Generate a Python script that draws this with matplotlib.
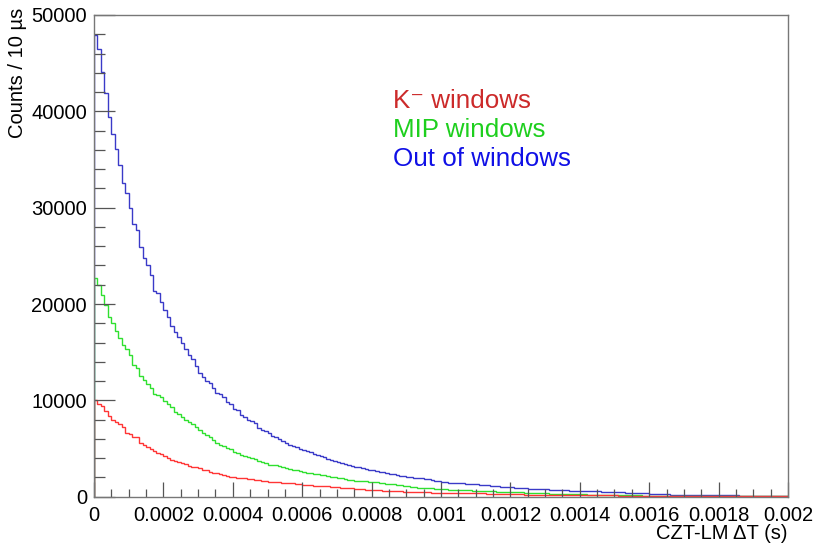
import matplotlib
matplotlib.use("Agg")
import matplotlib.pyplot as plt
import numpy as np
from matplotlib.ticker import MultipleLocator

# 200 bins of 10 us between 0 and 2 ms
bin_lo = 0.0
bin_hi = 0.002
n_bins = 200

# counts per bin
out_of_windows = [
    47940, 46490, 44070, 41950, 39460, 37660, 36070, 34440, 32540, 31560,
    29950, 28320, 27690, 25960, 24760, 24060, 23020, 21390, 21120, 20230,
    19370, 18680, 17710, 17120, 16600, 15910, 15290, 14700, 14240, 13580,
    12790, 12440, 12020, 11810, 11240, 10750, 10700, 10360, 9840, 9570,
    9050, 8980, 8460, 8280, 7940, 7870, 7600, 7080, 6900, 6780,
    6560, 6350, 6180, 5990, 5760, 5580, 5410, 5300, 5120, 4960,
    4820, 4700, 4590, 4450, 4330, 4220, 4130, 3960, 3820, 3700,
    3600, 3520, 3400, 3290, 3200, 3100, 3030, 2960, 2880, 2790,
    2720, 2680, 2590, 2520, 2440, 2370, 2320, 2250, 2190, 2120,
    2080, 2010, 1970, 1930, 1900, 1840, 1790, 1720, 1640, 1580,
    1510, 1480, 1450, 1430, 1400, 1390, 1370, 1340, 1320, 1300,
    1280, 1250, 1210, 1170, 1130, 1110, 1080, 1050, 1010, 990,
    970, 950, 920, 900, 880, 840, 820, 800, 790, 770,
    750, 740, 720, 700, 690, 670, 660, 640, 630, 620,
    600, 590, 570, 560, 550, 540, 530, 530, 520, 510,
    490, 470, 450, 430, 420, 400, 380, 360, 350, 330,
    310, 290, 280, 260, 240, 230, 220, 210, 200, 200,
    190, 190, 180, 180, 170, 170, 160, 160, 160, 150,
    150, 150, 140, 140, 130, 130, 120, 110, 110, 100,
    90, 90, 80, 70, 70, 70, 60, 60, 60, 50,
]

mip_windows = [
    22660, 21970, 20930, 19900, 18690, 18060, 17230, 16440, 15740, 15290,
    14710, 13670, 13320, 12530, 12110, 11700, 11250, 10680, 10520, 10330,
    9880, 9600, 9360, 8840, 8550, 8250, 8000, 7800, 7500, 7280,
    6900, 6660, 6400, 6170, 5850, 5620, 5400, 5270, 5050, 4920,
    4680, 4500, 4330, 4200, 4090, 3980, 3880, 3750, 3640, 3460,
    3330, 3300, 3240, 3150, 3080, 2980, 2870, 2800, 2720, 2640,
    2560, 2500, 2440, 2400, 2340, 2290, 2240, 2150, 2080, 2000,
    1940, 1890, 1830, 1760, 1700, 1650, 1620, 1600, 1580, 1570,
    1550, 1500, 1450, 1400, 1350, 1310, 1270, 1220, 1180, 1140,
    1100, 1000, 970, 950, 920, 900, 880, 850, 830, 800,
    770, 760, 740, 730, 710, 700, 680, 670, 650, 640,
    620, 610, 590, 580, 560, 550, 530, 520, 500, 490,
    480, 470, 450, 440, 420, 400, 380, 370, 360, 350,
    330, 320, 310, 300, 290, 280, 270, 260, 250, 250,
    240, 230, 220, 210, 200, 190, 180, 180, 170, 170,
    160, 160, 150, 150, 140, 140, 130, 130, 120, 120,
    120, 110, 110, 100, 100, 100, 90, 90, 90, 80,
    80, 80, 70, 70, 70, 70, 60, 60, 60, 60,
    50, 50, 50, 50, 40, 40, 40, 40, 40, 40,
    30, 30, 30, 30, 30, 30, 30, 20, 20, 20,
]

k_windows = [
    10050, 9640, 9430, 8940, 8390, 7970, 7800, 7560, 7210, 6660,
    6520, 6240, 6170, 5550, 5370, 5200, 4920, 4780, 4510, 4440,
    4230, 3990, 3810, 3740, 3640, 3540, 3400, 3190, 3120, 3050,
    2950, 2770, 2770, 2600, 2500, 2430, 2360, 2250, 2150, 2080,
    2010, 1980, 1910, 1910, 1840, 1800, 1730, 1730, 1660, 1630,
    1560, 1540, 1510, 1490, 1470, 1460, 1440, 1400, 1340, 1290,
    1240, 1210, 1190, 1160, 1140, 1120, 1100, 1070, 1040, 1010,
    980, 950, 910, 880, 850, 810, 790, 770, 740, 720,
    690, 670, 650, 630, 610, 590, 570, 560, 540, 530,
    510, 490, 480, 470, 460, 450, 440, 430, 430, 420,
    415, 410, 400, 390, 380, 380, 370, 360, 360, 350,
    350, 340, 330, 320, 310, 300, 290, 270, 260, 250,
    240, 240, 230, 230, 220, 220, 210, 210, 210, 200,
    200, 190, 190, 190, 180, 180, 170, 170, 170, 170,
    160, 160, 150, 150, 150, 140, 140, 140, 130, 130,
    130, 120, 120, 120, 110, 110, 110, 100, 100, 100,
    90, 90, 90, 80, 80, 80, 80, 70, 70, 70,
    70, 60, 60, 60, 60, 60, 50, 50, 50, 50,
    50, 40, 40, 40, 40, 40, 40, 30, 30, 30,
    30, 30, 30, 30, 30, 20, 20, 20, 20, 20,
]

x_ticks = [0, 0.0002, 0.0004, 0.0006, 0.0008, 0.001, 0.0012, 0.0014, 0.0016, 0.0018, 0.002]
x_tick_labels = ["0", "0.0002", "0.0004", "0.0006", "0.0008", "0.001",
                 "0.0012", "0.0014", "0.0016", "0.0018", "0.002"]
y_ticks = [0, 10000, 20000, 30000, 40000, 50000]

series = [
    ("Out of windows", out_of_windows, "#3a3ac8", "#1010e6"),
    ("MIP windows", mip_windows, "#2fe02f", "#1ecf1e"),
    ("K\u207b windows", k_windows, "#ff3535", "#cc2a2a"),
]

plt.rcParams["font.family"] = ["Liberation Sans", "DejaVu Sans"]

fig = plt.figure(figsize=(8.14, 5.47), dpi=100)
ax = fig.add_axes([0.1155, 0.092, 0.968 - 0.1155, 0.9726 - 0.092])

edges = np.linspace(bin_lo, bin_hi, n_bins + 1)
for name, vals, line_col, text_col in series:
    ax.stairs(vals, edges, color=line_col, linewidth=1.0)

ax.set_xlim(bin_lo, bin_hi)
ax.set_ylim(0, 50000)

ax.set_xticks(x_ticks)
ax.set_xticklabels(x_tick_labels)
ax.set_yticks(y_ticks)
ax.set_yticklabels([str(v) for v in y_ticks])
ax.xaxis.set_minor_locator(MultipleLocator(0.00005))
ax.yaxis.set_minor_locator(MultipleLocator(2000))

# ROOT look: ticks inside, only on left and bottom
ax.tick_params(axis="x", which="major", direction="in", length=11, width=0.9,
               color="#555555", labelsize=14.5, pad=7)
ax.tick_params(axis="x", which="minor", direction="in", length=5.5, width=0.9,
               color="#555555")
ax.tick_params(axis="y", which="major", direction="in", length=15, width=0.9,
               color="#555555", labelsize=14.5, pad=5)
ax.tick_params(axis="y", which="minor", direction="in", length=8, width=0.9,
               color="#555555")
for sp in ax.spines.values():
    sp.set_color("#777777")
    sp.set_linewidth(1.0)

fig.text(0.022, 0.985, "Counts / 10 \u00b5s", rotation=90, ha="center", va="top",
         fontsize=14.5)
fig.text(0.968, 0.008, "CZT-LM \u0394T (s)", ha="right", va="bottom", fontsize=14.5)

# text legend, same order as the reference
legend_y = [0.803, 0.750, 0.697]
for (name, vals, line_col, text_col), yy in zip(series[::-1], legend_y):
    fig.text(0.483, yy, name, color=text_col, fontsize=18.7, ha="left", va="baseline")

fig.savefig("out.png", dpi=100)
plt.close(fig)
